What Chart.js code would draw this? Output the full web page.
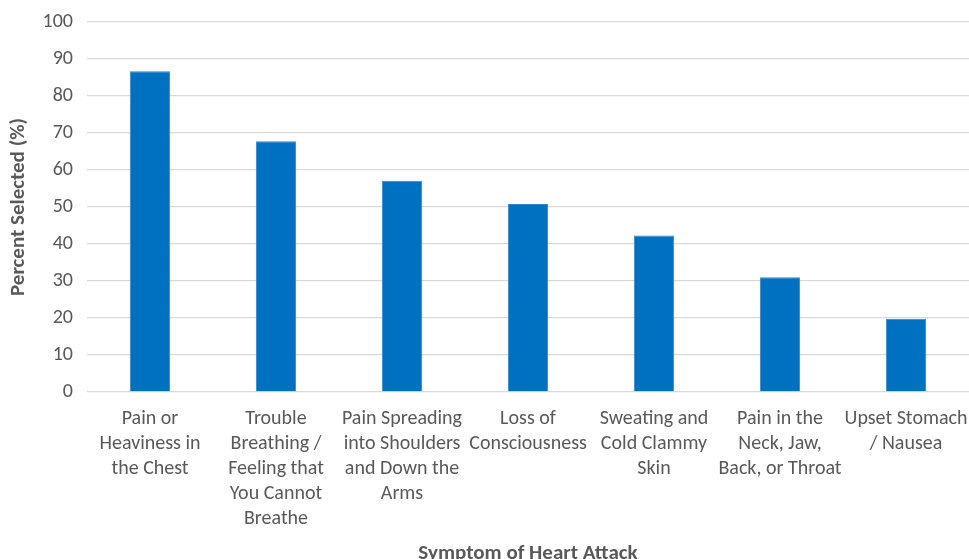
<!DOCTYPE html>
<html>
<head>
<meta charset="utf-8">
<script src="https://cdn.jsdelivr.net/npm/chart.js@4/dist/chart.umd.min.js"></script>
<style>
   html, body { margin: 0; padding: 0; background: #fff; overflow: hidden; }
   #wrap { width: 969px; height: 566px; position: relative; }
</style>
</head>
<body>
<div id="wrap"><canvas id="symptomChart"></canvas></div>
<script>
// categories as they are wrapped on the x axis
const symptoms = [
   ['Pain or', 'Heaviness in', 'the Chest'],
   ['Trouble', 'Breathing /', 'Feeling that', 'You Cannot', 'Breathe'],
   ['Pain Spreading', 'into Shoulders', 'and Down the', 'Arms'],
   ['Loss of', 'Consciousness'],
   ['Sweating and', 'Cold Clammy', 'Skin'],
   ['Pain in the', 'Neck, Jaw,', 'Back, or Throat'],
   ['Upset Stomach', '/ Nausea']
];
const percentSelected = [86.7, 67.8, 57.1, 50.8, 42.3, 31.0, 19.8];
const yTicks = [0, 10, 20, 30, 40, 50, 60, 70, 80, 90, 100];

const fontFam = 'Carlito, Calibri, "Liberation Sans", sans-serif';
const grey = '#595959';

var ctx = document.getElementById('symptomChart').getContext('2d');
var symptomChart = new Chart(ctx, {
   type: 'bar',
   data: {
      labels: symptoms,
      datasets: [{
         data: percentSelected,
         backgroundColor: '#0070c0',
         borderColor: '#2f86cc',
         borderWidth: 1,
         categoryPercentage: 1,
         barPercentage: 0.32
      }]
   },
   options: {
      responsive: true,
      maintainAspectRatio: false,
      animation: false,
      layout: { padding: { top: 22, right: 0, left: 0, bottom: 0 } },
      plugins: { legend: { display: false }, tooltip: { enabled: false } },
      scales: {
         x: {
            grid: { display: false, drawTicks: false },
            border: { display: false },
            ticks: {
               color: grey,
               font: { family: fontFam, size: 20, lineHeight: 1.25 },
               maxRotation: 0,
               autoSkip: false,
               padding: 14
            },
            title: {
               display: true,
               text: 'Symptom of Heart Attack',
               color: grey,
               font: { family: fontFam, size: 21, weight: 'bold' },
               padding: { top: 8, bottom: 0 }
            },
            afterFit: function (s) {
               s.height = 174;
               s.paddingLeft = 0;
               s.paddingRight = 0;
            }
         },
         y: {
            min: 0,
            max: 100,
            afterBuildTicks: function (s) { s.ticks = yTicks.map(v => ({ value: v })); },
            grid: { color: '#d9d9d9', lineWidth: 1.3, drawTicks: false },
            border: { display: false },
            ticks: {
               color: grey,
               font: { family: fontFam, size: 20 },
               padding: 14
            },
            title: {
               display: true,
               text: 'Percent Selected (%)',
               color: grey,
               font: { family: fontFam, size: 21, weight: 'bold' },
               padding: { top: 6, bottom: 0 }
            },
            afterFit: function (s) {
               s.width = 87;
               s.paddingTop = 0;
               s.paddingBottom = 0;
            }
         }
      }
   }
});
</script>
</body>
</html>
